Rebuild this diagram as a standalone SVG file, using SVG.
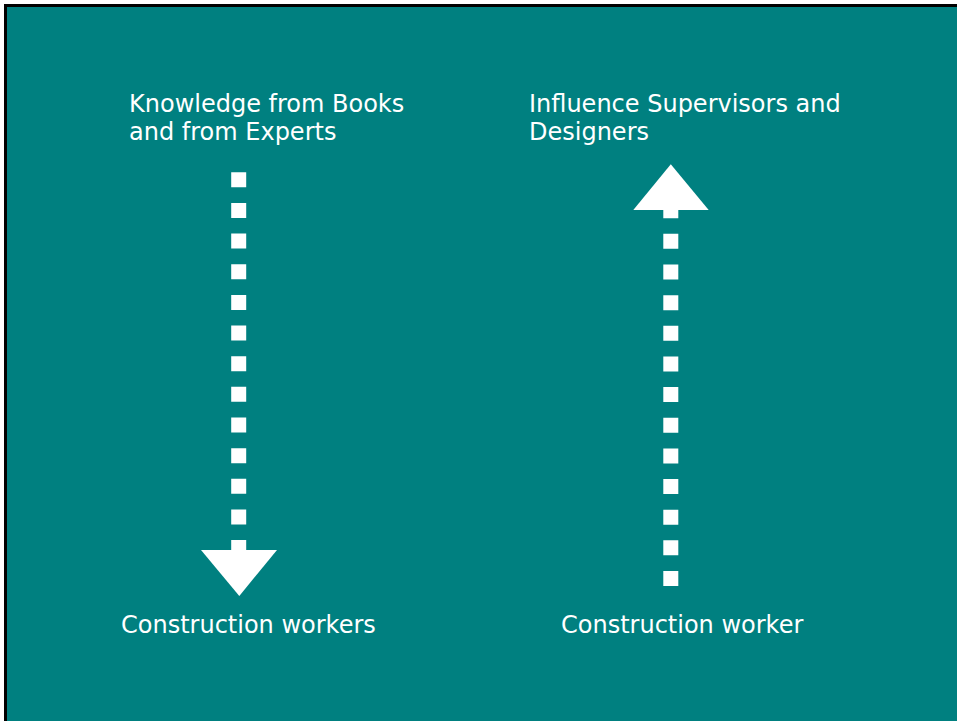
<svg xmlns="http://www.w3.org/2000/svg" width="957" height="721" viewBox="0 0 957 721">
  <style>
    .label { font-family: "DejaVu Sans", Verdana, sans-serif; font-size: 24px; fill: #ffffff; }
    .dots { stroke: #ffffff; stroke-width: 15; fill: none; stroke-dasharray: 15 15.65; }
    .head { fill: #ffffff; }
  </style>
  <!-- slide background with dark frame on top and left -->
  <rect x="0" y="0" width="957" height="721" fill="#ffffff"/>
  <rect x="5.5" y="5.5" width="960" height="730" fill="#008080" stroke="#000000" stroke-width="3"/>

  <g id="knowledge">
    <text class="label" x="129" y="112">Knowledge from Books</text>
    <text class="label" x="129" y="140">and from Experts</text>
  </g>
  <g id="workers">
    <text class="label" x="121" y="633">Construction workers</text>
  </g>
  <g id="influence">
    <text class="label" x="529" y="112">Influence Supervisors and</text>
    <text class="label" x="529" y="140">Designers</text>
  </g>
  <g id="worker">
    <text class="label" x="561" y="633">Construction worker</text>
  </g>

  <g id="connectors">
    <!-- downward flow: books and experts to workers -->
    <line class="dots" x1="238.7" y1="172.3" x2="238.7" y2="555"/>
    <polygon class="head" points="201,550 277,550 239.3,596"/>
    <!-- upward flow: worker to supervisors and designers -->
    <line class="dots" x1="670.8" y1="586" x2="670.8" y2="200"/>
    <polygon class="head" points="633.3,210 708.7,210 670.8,164.3"/>
  </g>
</svg>
